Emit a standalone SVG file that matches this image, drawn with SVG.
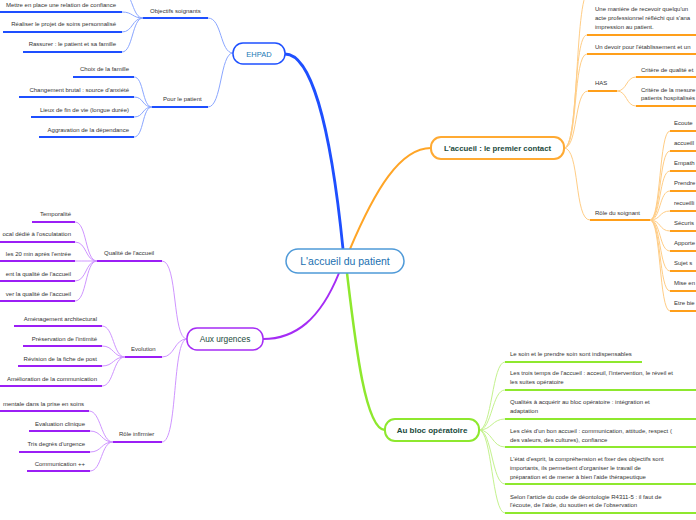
<svg xmlns="http://www.w3.org/2000/svg" width="696" height="520" viewBox="0 0 696 520">
<style>
.t{font-family:"Liberation Sans",Arial,sans-serif;font-size:6px;fill:#333}
.e{text-anchor:end}
.l1{font-family:"Liberation Sans",Arial,sans-serif;fill:#1b4a3c}
.ub{stroke:#1e4fff;stroke-width:2;fill:none}
.cb{stroke:#8aa6ff;stroke-width:1;fill:none}
.up{stroke:#9b1ff5;stroke-width:2;fill:none}
.cp{stroke:#cf95ff;stroke-width:1;fill:none}
.uo{stroke:#ff9f1a;stroke-width:2;fill:none}
.co{stroke:#ffcd85;stroke-width:1;fill:none}
.ug{stroke:#8ee82e;stroke-width:2;fill:none}
.cg{stroke:#c4f28e;stroke-width:1;fill:none}
</style>
<g id="connectors">
<path d="M343,249 C330,120 310,54 285,54" stroke="#1e4fff" stroke-width="2.8" fill="none"/>
<path d="M350,249 C375,190 400,148 431,148" stroke="#ffa526" stroke-width="2" fill="none"/>
<path d="M339,273 C320,320 295,339 263,339" stroke="#a52cf5" stroke-width="2" fill="none"/>
<path d="M347,273 C355,340 365,430 385,430" stroke="#8ee82e" stroke-width="2.5" fill="none"/>
<path class="cb" d="M233,53 C220,53 222,18 208,18"/>
<path class="cb" d="M233,53 C220,53 222,107 208,107"/>
<path class="cb" d="M143,18 C132,18 133,-8 122,-8"/>
<path class="cb" d="M143,18 C132,18 133,12 122,12"/>
<path class="cb" d="M143,18 C132,18 133,32 122,32"/>
<path class="cb" d="M143,18 C132,18 133,52 122,52"/>
<path class="cb" d="M152,107 C142,107 144,77 134,77"/>
<path class="cb" d="M152,107 C142,107 144,97 134,97"/>
<path class="cb" d="M152,107 C142,107 144,117 134,117"/>
<path class="cb" d="M152,107 C142,107 144,137 134,137"/>
<path class="cp" d="M187,339 C172,339 178,261 162,261"/>
<path class="cp" d="M187,339 C174,339 175,357 162,357"/>
<path class="cp" d="M187,339 C172,339 178,442 162,442"/>
<path class="cp" d="M97,261 C85,261 87,222 75,222"/>
<path class="cp" d="M97,261 C85,261 87,242 75,242"/>
<path class="cp" d="M97,261 C85,261 87,261 75,261"/>
<path class="cp" d="M97,261 C85,261 87,281 75,281"/>
<path class="cp" d="M97,261 C85,261 87,301 75,301"/>
<path class="cp" d="M125,357 C113,357 114,326 102,326"/>
<path class="cp" d="M125,357 C113,357 114,346 102,346"/>
<path class="cp" d="M125,357 C113,357 114,366 102,366"/>
<path class="cp" d="M125,357 C113,357 114,386 102,386"/>
<path class="cp" d="M113,442 C101,442 101,411 89,411"/>
<path class="cp" d="M113,442 C101,442 102,431 90,431"/>
<path class="cp" d="M113,442 C101,442 102,452 90,452"/>
<path class="cp" d="M113,442 C101,442 102,471 90,471"/>
<path class="co" d="M564,148 C580,148 574,-10 590,-10"/>
<path class="co" d="M564,148 C578,148 573,35 587,35"/>
<path class="co" d="M564,148 C578,148 573,54 587,54"/>
<path class="co" d="M564,148 C578,148 574,91 588,91"/>
<path class="co" d="M564,148 C580,148 574,220 590,220"/>
<path class="co" d="M617,91 C627,91 626,77 636,77"/>
<path class="co" d="M617,91 C627,91 626,106 636,106"/>
<path class="co" d="M650,220 C661,220 659,131 670,131"/>
<path class="co" d="M650,220 C661,220 659,151 670,151"/>
<path class="co" d="M650,220 C661,220 659,171 670,171"/>
<path class="co" d="M650,220 C661,220 659,191 670,191"/>
<path class="co" d="M650,220 C661,220 659,211 670,211"/>
<path class="co" d="M650,220 C661,220 659,231 670,231"/>
<path class="co" d="M650,220 C661,220 659,251 670,251"/>
<path class="co" d="M650,220 C661,220 659,271 670,271"/>
<path class="co" d="M650,220 C661,220 659,291 670,291"/>
<path class="co" d="M650,220 C661,220 659,311 670,311"/>
<path class="cg" d="M479,430 C492,430 492,362 505,362"/>
<path class="cg" d="M479,430 C492,430 492,390 505,390"/>
<path class="cg" d="M479,430 C492,430 492,419 505,419"/>
<path class="cg" d="M479,430 C492,430 492,447 505,447"/>
<path class="cg" d="M479,430 C492,430 492,484 505,484"/>
<path class="cg" d="M479,430 C492,430 492,513 505,513"/>
</g>
<g id="center">
<rect x="286" y="249" width="118" height="24" rx="12" fill="#fff" stroke="#4f9ad8" stroke-width="1.5"/>
<text x="345" y="264.5" text-anchor="middle" font-family="Liberation Sans, Arial, sans-serif" font-size="10.5" fill="#1a6fb0">L'accueil du patient</text>
</g>
<g id="ehpad">
<rect x="233" y="43" width="52" height="21" rx="10" fill="#fff" stroke="#1e50ff" stroke-width="1.5"/>
<text x="259" y="56.5" text-anchor="middle" class="l1" font-size="7.5" style="fill:#1a7ab5">EHPAD</text>
</g>
<g id="objectifs">
<path class="ub" d="M143,18 H208"/><text class="t" x="150" y="13">Objectifs soignants</text>
<path class="ub" d="M0,12 H122"/><text class="t e" x="116" y="7">Mettre en place une relation de confiance</text>
<path class="ub" d="M3,32 H122"/><text class="t e" x="116" y="26">Réaliser le projet de soins personnalisé</text>
<path class="ub" d="M23,52 H122"/><text class="t e" x="116" y="46">Rassurer : le patient et sa famille</text>
</g>
<g id="pour-patient">
<path class="ub" d="M152,107 H208"/><text class="t" x="163" y="101">Pour le patient</text>
<path class="ub" d="M73,77 H134"/><text class="t e" x="129" y="71">Choix de la famille</text>
<path class="ub" d="M19,97 H134"/><text class="t e" x="129" y="92">Changement brutal : source d'anxiété</text>
<path class="ub" d="M31,117 H134"/><text class="t e" x="129" y="112">Lieux de fin de vie (longue durée)</text>
<path class="ub" d="M39,137 H134"/><text class="t e" x="129" y="132">Aggravation de la dépendance</text>
</g>
<g id="urgences">
<rect x="187" y="328" width="76" height="22" rx="10" fill="#fff" stroke="#a52cf5" stroke-width="1.5"/>
<text x="225" y="342" text-anchor="middle" class="l1" font-size="8.3">Aux urgences</text>
</g>
<g id="qualite">
<path class="up" d="M97,261 H162"/><text class="t" x="104" y="255">Qualité de l'accueil</text>
<path class="up" d="M32,222 H75"/><text class="t e" x="71" y="216">Temporalité</text>
<path class="up" d="M0,242 H75"/><text class="t e" x="71" y="236">ocal dédié à l'osculatation</text>
<path class="up" d="M0,261 H75"/><text class="t e" x="71" y="256">les 20 min après l'entrée</text>
<path class="up" d="M0,281 H75"/><text class="t e" x="71" y="276">ent la qualité de l'accueil</text>
<path class="up" d="M0,301 H75"/><text class="t e" x="71" y="296">ver la qualité de l'accueil</text>
</g>
<g id="evolution">
<path class="up" d="M125,357 H162"/><text class="t" x="131" y="351">Evolution</text>
<path class="up" d="M14,326 H102"/><text class="t e" x="97" y="321">Aménagement architectural</text>
<path class="up" d="M23,346 H102"/><text class="t e" x="97" y="341">Préservation de l'intimité</text>
<path class="up" d="M18,366 H102"/><text class="t e" x="97" y="361">Révision de la fiche de post</text>
<path class="up" d="M0,386 H102"/><text class="t e" x="97" y="381">Amélioration de la communication</text>
</g>
<g id="role-infirmier">
<path class="up" d="M113,442 H162"/><text class="t" x="119" y="436">Rôle infirmier</text>
<path class="up" d="M0,411 H89"/><text class="t e" x="84" y="406">mentale dans la prise en soins</text>
<path class="up" d="M29,431 H90"/><text class="t e" x="85" y="426">Evaluation clinique</text>
<path class="up" d="M19,452 H90"/><text class="t e" x="85" y="446">Tris degrés d'urgence</text>
<path class="up" d="M27,471 H90"/><text class="t e" x="85" y="466">Communication ++</text>
</g>
<g id="accueil">
<rect x="431" y="137" width="133" height="22" rx="10" fill="#fff" stroke="#ffaa33" stroke-width="2"/>
<text x="497.5" y="151" text-anchor="middle" class="l1" font-size="7.8" font-weight="bold">L'accueil : le premier contact</text>
</g>
<g id="accueil-items">
<text class="t" x="595" y="11">Une manière de recevoir quelqu'un</text>
<text class="t" x="595" y="19.5">acte professionnel réfléchi qui s'ana</text>
<text class="t" x="595" y="28.5">impression au patient.</text>
<path class="uo" d="M587,35 H696"/>
<text class="t" x="595" y="49">Un devoir pour l'établissement et un</text>
<path class="uo" d="M587,54 H696"/>
</g>
<g id="has">
<path class="uo" d="M588,91 H617"/><text class="t" x="595" y="85">HAS</text>
<text class="t" x="641" y="72">Critère de qualité et</text>
<path class="uo" d="M636,77 H696"/>
<text class="t" x="641" y="92">Critère de la mesure</text>
<text class="t" x="641" y="100">patients hospitalisés</text>
<path class="uo" d="M636,106 H696"/>
</g>
<g id="role-soignant">
<path class="uo" d="M590,220 H650"/><text class="t" x="595" y="215">Rôle du soignant</text>
<text class="t" x="674" y="125">Ecoute</text><path class="uo" d="M670,131 H696"/>
<text class="t" x="674" y="145">accueill</text><path class="uo" d="M670,151 H696"/>
<text class="t" x="674" y="165">Empath</text><path class="uo" d="M670,171 H696"/>
<text class="t" x="674" y="185">Prendre</text><path class="uo" d="M670,191 H696"/>
<text class="t" x="674" y="205">recueilli</text><path class="uo" d="M670,211 H696"/>
<text class="t" x="674" y="225">Sécuris</text><path class="uo" d="M670,231 H696"/>
<text class="t" x="674" y="245">Apporte</text><path class="uo" d="M670,251 H696"/>
<text class="t" x="674" y="265">Sujet s</text><path class="uo" d="M670,271 H696"/>
<text class="t" x="674" y="285">Mise en</text><path class="uo" d="M670,291 H696"/>
<text class="t" x="674" y="305">Etre bie</text><path class="uo" d="M670,311 H696"/>
</g>
<g id="bloc">
<rect x="385" y="419" width="94" height="22" rx="10" fill="#fff" stroke="#8ee82e" stroke-width="2"/>
<text x="432" y="433" text-anchor="middle" class="l1" font-size="8" font-weight="bold">Au bloc opératoire</text>
</g>
<g id="bloc-items">
<text class="t" x="510" y="356">Le soin et le prendre soin sont indispensables</text>
<path class="ug" d="M505,362 H642"/>
<text class="t" x="510" y="375">Les trois temps de l'accueil : acceuil, l'intervention, le réveil et</text>
<text class="t" x="510" y="384">les suites opératoire</text>
<path class="ug" d="M505,390 H696"/>
<text class="t" x="510" y="404">Qualités à acquérir au bloc opératoire : intégration et</text>
<text class="t" x="510" y="413">adaptation</text>
<path class="ug" d="M505,419 H696"/>
<text class="t" x="510" y="433">Les clés d'un bon accueil : communication, attitude, respect (</text>
<text class="t" x="510" y="442">des valeurs, des cultures), confiance</text>
<path class="ug" d="M505,447 H696"/>
<text class="t" x="510" y="461">L'état d'esprit, la compréhension et fixer des objectifs sont</text>
<text class="t" x="510" y="470">importants, ils permettent d'organiser le travail de</text>
<text class="t" x="510" y="479">préparation et de mener à bien l'aide thérapeutique</text>
<path class="ug" d="M505,484 H696"/>
<text class="t" x="510" y="499">Selon l'article du code de déontologie R4311-5 : il faut de</text>
<text class="t" x="510" y="507">l'écoute, de l'aide, du soutien et de l'observation</text>
<path class="ug" d="M505,513 H696"/>
</g>
</svg>
